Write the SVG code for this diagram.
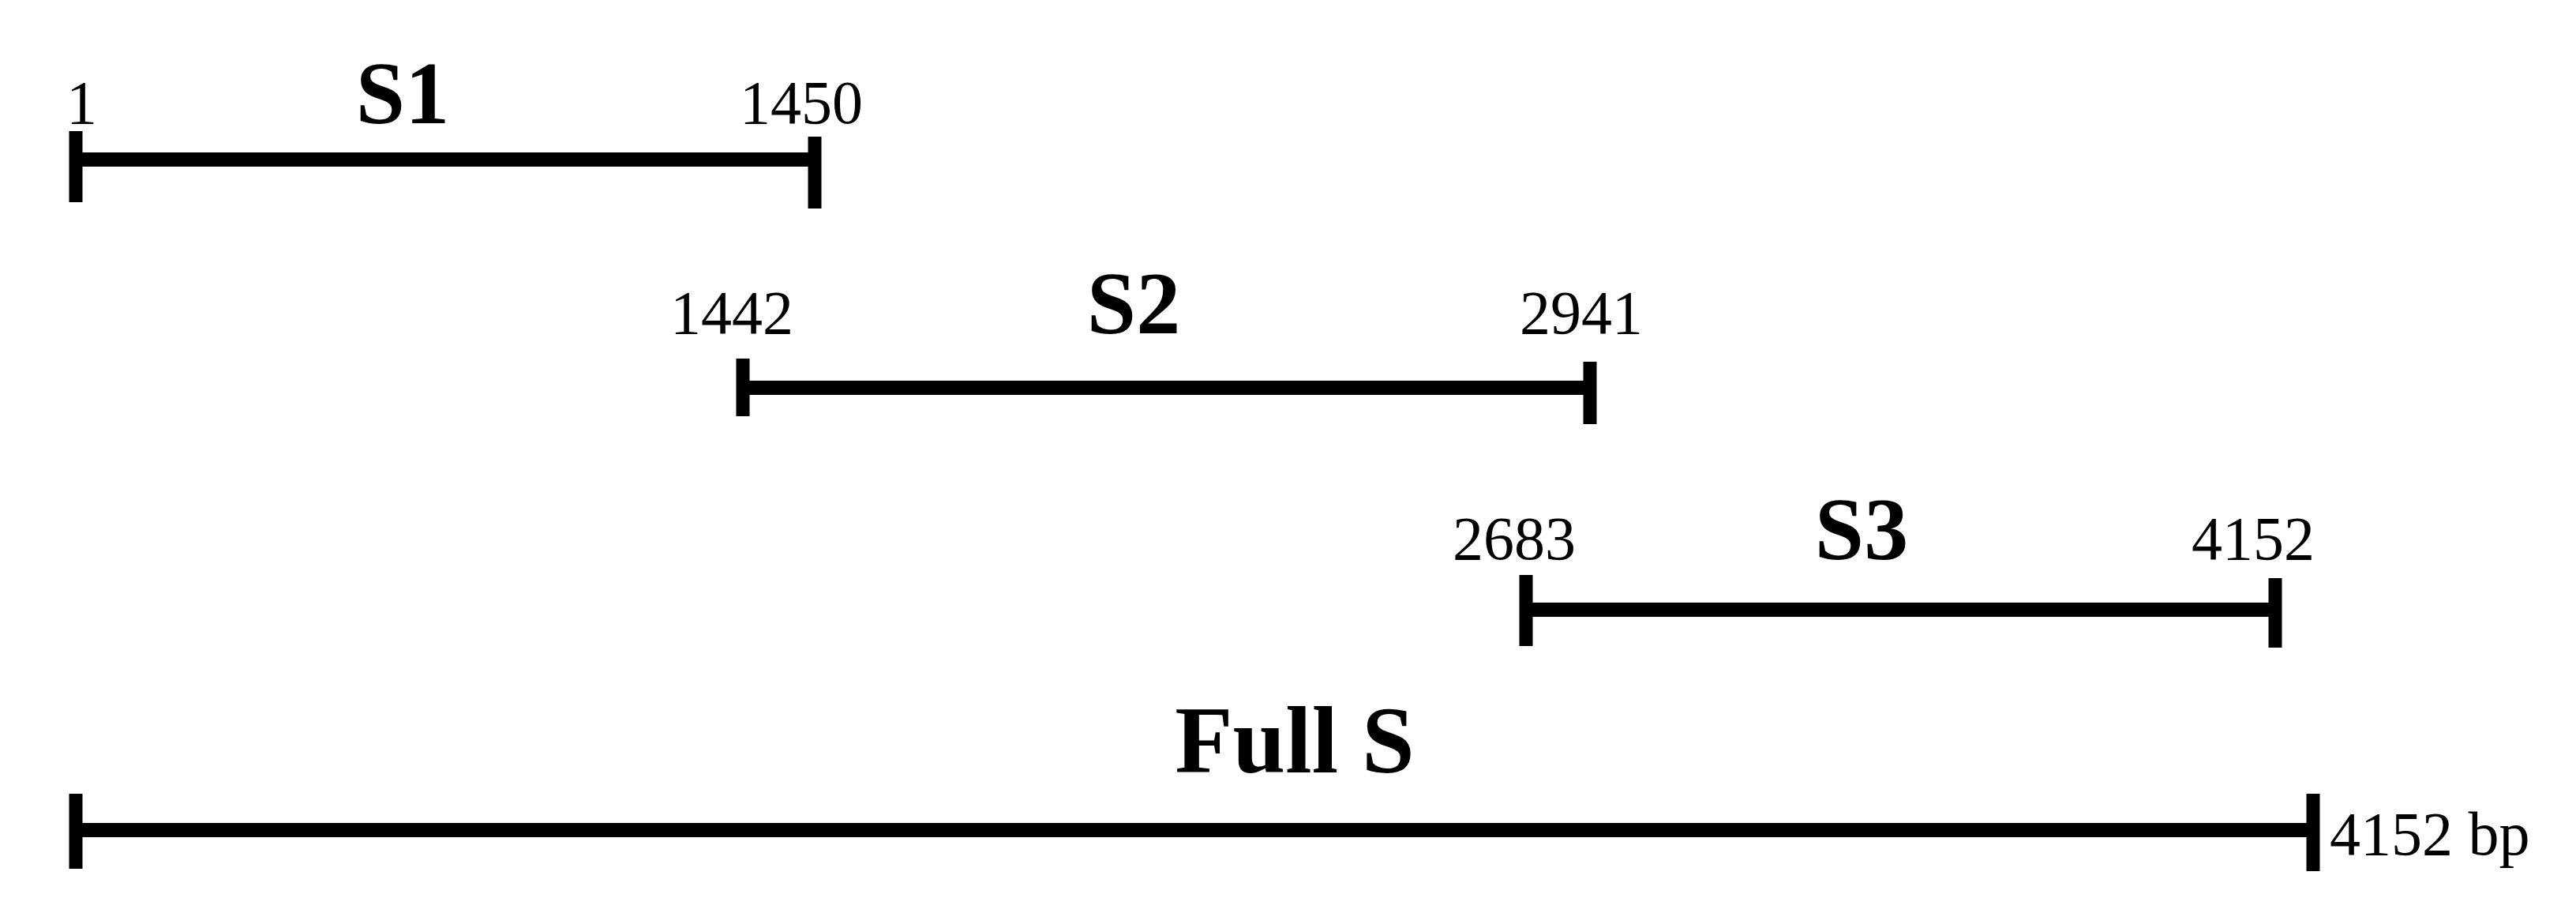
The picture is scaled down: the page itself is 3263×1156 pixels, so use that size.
<svg xmlns="http://www.w3.org/2000/svg" width="3263" height="1156" viewBox="0 0 3263 1156">
<style>
.bar{stroke:#000;stroke-width:18;fill:none}
.tick{stroke:#000;stroke-width:17;fill:none}
.num{font-family:"Liberation Serif",serif;font-size:78px;fill:#000}
.name{font-family:"Liberation Serif",serif;font-size:112px;font-weight:bold;fill:#000;text-anchor:middle}
</style>
<rect width="3263" height="1156" fill="#fff"/>
<g id="connectors">
<line class="bar" x1="96" y1="202" x2="1032" y2="202"/>
<line class="bar" x1="941" y1="491" x2="2014" y2="491"/>
<line class="bar" x1="1933" y1="772" x2="2882" y2="772"/>
<line class="bar" x1="96" y1="1051" x2="2930" y2="1051"/>
</g>
<g id="S1">
<line class="tick" x1="96" y1="166" x2="96" y2="256"/>
<line class="tick" x1="1032" y1="173" x2="1032" y2="264"/>
<text class="num" x="84" y="156">1</text>
<text class="name" x="510" y="156">S1</text>
<text class="num" x="937" y="156">1450</text>
</g>
<g id="S2">
<line class="tick" x1="941" y1="454" x2="941" y2="527"/>
<line class="tick" x1="2014" y1="458" x2="2014" y2="537"/>
<text class="num" x="849" y="422">1442</text>
<text class="name" x="1436" y="422">S2</text>
<text class="num" x="1925" y="422">2941</text>
</g>
<g id="S3">
<line class="tick" x1="1933" y1="728" x2="1933" y2="818"/>
<line class="tick" x1="2882" y1="732" x2="2882" y2="820"/>
<text class="num" x="1840" y="708">2683</text>
<text class="name" x="2358" y="708">S3</text>
<text class="num" x="2776" y="708">4152</text>
</g>
<g id="FullS">
<line class="tick" x1="96" y1="1005" x2="96" y2="1100"/>
<line class="tick" x1="2930" y1="1005" x2="2930" y2="1103"/>
<text class="name" x="1640" y="978" style="font-size:120px">Full S</text>
<text class="num" x="2951" y="1082">4152 bp</text>
</g>
</svg>
